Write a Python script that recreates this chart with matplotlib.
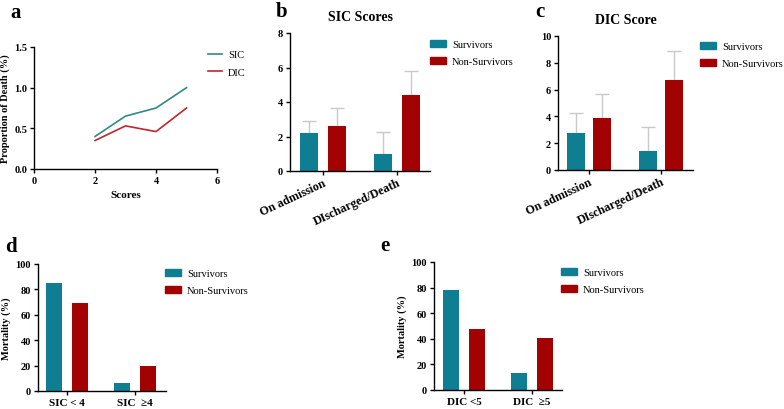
import matplotlib
matplotlib.use("Agg")
import matplotlib.pyplot as plt
import matplotlib.transforms as mtransforms
import numpy as np
from matplotlib.patches import Patch
from matplotlib.lines import Line2D

plt.rcParams['font.family'] = ['Liberation Serif', 'DejaVu Serif']

# ---------------- data ----------------
a_scores = [2, 3, 4, 5]
a_sic = [0.40, 0.65, 0.75, 1.00]
a_dic = [0.35, 0.53, 0.46, 0.75]

bc_categories = ["On admission", "DIscharged/Death"]
b_surv = [2.2, 1.0]
b_surv_upper = [2.9, 2.25]
b_nons = [2.6, 4.4]
b_nons_upper = [3.65, 5.8]

c_surv = [2.75, 1.4]
c_surv_upper = [4.25, 3.2]
c_nons = [3.85, 6.7]
c_nons_upper = [5.7, 8.85]

d_categories = ["SIC < 4", "SIC  \u22654"]
d_surv = [85, 6]
d_nons = [69, 20]

e_categories = ["DIC <5", "DIC  \u22655"]
e_surv = [78, 13]
e_nons = [48, 41]

series_names = ["Survivors", "Non-Survivors"]

# ---------------- style ----------------
TEAL = "#0f7e93"
RED = "#a30202"
LINE_TEAL = "#2f8a86"
LINE_RED = "#c0262c"
ERR = "#c9c9c9"

W, H = 784, 410
fig = plt.figure(figsize=(W / 100, H / 100), dpi=100)


def rect(x0, x1, ytop, ybot):
    return [x0 / W, 1 - ybot / H, (x1 - x0) / W, (ybot - ytop) / H]


def style_ax(ax):
    for s in ["top", "right"]:
        ax.spines[s].set_visible(False)
    for s in ["left", "bottom"]:
        ax.spines[s].set_linewidth(1.0)
    ax.tick_params(axis="both", length=3, width=1.0, labelsize=7.5, pad=2)
    for lab in ax.get_xticklabels() + ax.get_yticklabels():
        lab.set_fontweight("bold")


def fig_legend(handles, labels, x, y, **kw):
    fig.legend(handles, labels, loc="upper left",
               bbox_to_anchor=(x / W, 1 - y / H), frameon=False,
               fontsize=7.5, borderaxespad=0, borderpad=0, labelspacing=0.8,
               handletextpad=0.6, **kw)


# ---------------- panel a ----------------
ax = fig.add_axes(rect(34, 217, 48, 170))
ax.plot(a_scores, a_sic, color=LINE_TEAL, lw=1.2)
ax.plot(a_scores, a_dic, color=LINE_RED, lw=1.2)
ax.set_xlim(0, 6)
ax.set_ylim(0, 1.5)
ax.set_xticks([0, 2, 4, 6])
ax.set_yticks([0, 0.5, 1.0, 1.5])
ax.set_yticklabels(["0.0", "0.5", "1.0", "1.5"])
ax.set_xlabel("Scores", fontsize=8, fontweight="bold", labelpad=4)
ax.set_ylabel("Proportion of Death (%)", fontsize=7.5, fontweight="bold", labelpad=3)
style_ax(ax)
fig_legend([Line2D([], [], color=LINE_TEAL, lw=1.2), Line2D([], [], color=LINE_RED, lw=1.2)],
           ["SIC", "DIC"], 208, 51, handlelength=1.3)
fig.text(10 / W, 1 - 13 / H, "a", fontsize=15, fontweight="bold", va="center", ha="left")


def bar_panel(box, xlim, ylim, yticks, surv, nons, cats, offset, width,
              surv_up=None, nons_up=None, rot=0, title=None):
    ax = fig.add_axes(rect(*box))
    x = np.arange(len(cats))
    ax.bar(x - offset, surv, width, color=TEAL, zorder=2)
    ax.bar(x + offset, nons, width, color=RED, zorder=2)
    if surv_up is not None:
        ax.errorbar(x - offset, surv, yerr=[np.zeros(len(surv)), np.array(surv_up) - np.array(surv)],
                    fmt="none", ecolor=ERR, elinewidth=1.0, capsize=5, capthick=1.0, zorder=1)
        ax.errorbar(x + offset, nons, yerr=[np.zeros(len(nons)), np.array(nons_up) - np.array(nons)],
                    fmt="none", ecolor=ERR, elinewidth=1.0, capsize=5, capthick=1.0, zorder=1)
    ax.set_xlim(*xlim)
    ax.set_ylim(*ylim)
    ax.set_yticks(yticks)
    ax.set_xticks(x)
    if rot:
        ax.set_xticklabels(cats, rotation=rot, ha="right", rotation_mode="anchor")
    else:
        ax.set_xticklabels(cats)
    style_ax(ax)
    shift = mtransforms.ScaledTranslation(5 / 100, 0, fig.dpi_scale_trans)
    for lab in ax.get_xticklabels():
        lab.set_fontsize(8.7 if rot else 8)
        if rot:
            lab.set_transform(lab.get_transform() + shift)
    if rot:
        ax.tick_params(axis="x", pad=1)
    if title:
        ax.set_title(title, fontsize=10, fontweight="bold", pad=9)
    return ax


handles = [Patch(color=TEAL), Patch(color=RED)]

# ---------------- panel b ----------------
bar_panel((290, 430, 34, 172), (-0.446, 1.446), (0, 8), [0, 2, 4, 6, 8],
          b_surv, b_nons, bc_categories, 0.189, 0.245, b_surv_upper, b_nons_upper,
          rot=25, title="SIC Scores")
fig_legend(handles, series_names, 430, 41, handlelength=1.5, handleheight=0.6)
fig.text(276 / W, 1 - 12 / H, "b", fontsize=15, fontweight="bold", va="center", ha="left")

# ---------------- panel c ----------------
bar_panel((558, 693, 37, 171), (-0.43, 1.444), (0, 10), [0, 2, 4, 6, 8, 10],
          c_surv, c_nons, bc_categories, 0.18, 0.25, c_surv_upper, c_nons_upper,
          rot=25, title="DIC Score")
fig_legend(handles, series_names, 700, 43, handlelength=1.5, handleheight=0.6)
fig.text(535 / W, 1 - 12 / H, "c", fontsize=15, fontweight="bold", va="center", ha="left")

# ---------------- panel d ----------------
axd = bar_panel((38, 166, 265, 392), (-0.426, 1.456), (0, 100), [0, 20, 40, 60, 80, 100],
                d_surv, d_nons, d_categories, 0.19, 0.235)
axd.set_ylabel("Mortality (%)", fontsize=7.5, fontweight="bold", labelpad=3)
fig_legend(handles, series_names, 165, 270, handlelength=1.5, handleheight=0.6)
fig.text(5 / W, 1 - 247 / H, "d", fontsize=15, fontweight="bold", va="center", ha="left")

# ---------------- panel e ----------------
axe = bar_panel((434, 562, 263, 391), (-0.44, 1.44), (0, 100), [0, 20, 40, 60, 80, 100],
                e_surv, e_nons, e_categories, 0.19, 0.245)
axe.set_ylabel("Mortality (%)", fontsize=7.5, fontweight="bold", labelpad=3)
fig_legend(handles, series_names, 561, 269, handlelength=1.5, handleheight=0.6)
fig.text(380 / W, 1 - 246 / H, "e", fontsize=15, fontweight="bold", va="center", ha="left")

fig.savefig("out.png", dpi=100)
